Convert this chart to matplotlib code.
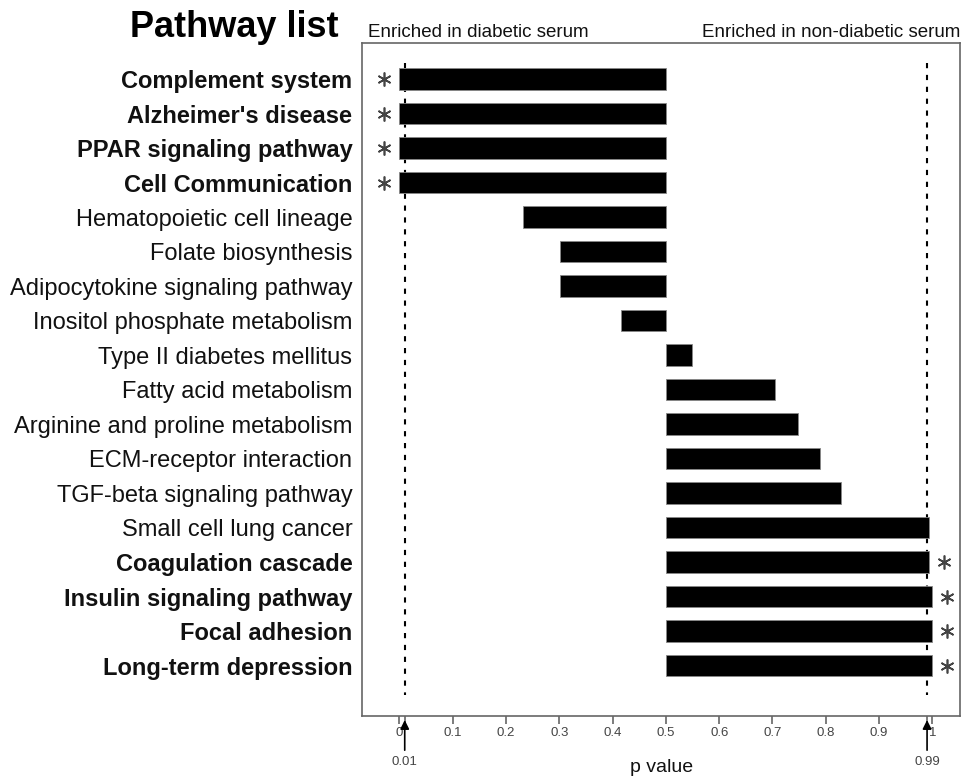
import matplotlib
matplotlib.use("Agg")
import matplotlib.pyplot as plt

plt.rcParams["font.family"] = ["Liberation Sans", "DejaVu Sans"]

# pathway names, top to bottom
pathways = [
    "Complement system", "Alzheimer's disease", "PPAR signaling pathway",
    "Cell Communication", "Hematopoietic cell lineage", "Folate biosynthesis",
    "Adipocytokine signaling pathway", "Inositol phosphate metabolism",
    "Type II diabetes mellitus", "Fatty acid metabolism",
    "Arginine and proline metabolism", "ECM-receptor interaction",
    "TGF-beta signaling pathway", "Small cell lung cancer",
    "Coagulation cascade", "Insulin signaling pathway", "Focal adhesion",
    "Long-term depression",
]
# p value of each pathway (bars are drawn from 0.5)
p_values = [0.0, 0.0, 0.0, 0.0, 0.232, 0.302, 0.302, 0.415,
            0.549, 0.704, 0.747, 0.789, 0.828, 0.994,
            0.994, 1.0, 1.0, 1.0]
significant = [True, True, True, True] + [False] * 10 + [True, True, True, True]
cutoffs = [0.01, 0.99]
xticks = [0, 0.1, 0.2, 0.3, 0.4, 0.5, 0.6, 0.7, 0.8, 0.9, 1.0]
xtick_labels = ["0", "0.1", "0.2", "0.3", "0.4", "0.5", "0.6", "0.7", "0.8", "0.9", "1"]
base = 0.5

fig = plt.figure(figsize=(9.63, 7.77), dpi=100)
ax = fig.add_axes([0.376, 0.0785, 0.621, 0.866])

rows = list(range(len(pathways)))
widths = [p - base for p in p_values]
ax.barh(rows, widths, left=base, height=0.63, color="black",
        edgecolor="#888888", linewidth=0.6, zorder=3)

# significance cut-offs
for c in cutoffs:
    ax.plot([c, c], [-0.45, 17.85], color="black", lw=1.5,
            ls=(0, (2.5, 3.2)), zorder=2)

# asterisks beside significant bars
for r, p, s in zip(rows, p_values, significant):
    if not s:
        continue
    xs = p - 0.029 if p < base else p + 0.027
    ax.plot(xs, r, marker=(6, 2, 0), ms=10, mew=1.2, color="#444444",
            ls="none", zorder=4)

ax.set_xlim(-0.07, 1.052)
ax.set_ylim(18.46, -1.04)
ax.set_yticks(rows)
ax.set_yticklabels(pathways, fontsize=17, color="#111111")
for lbl, s in zip(ax.get_yticklabels(), significant):
    if s:
        lbl.set_fontweight("bold")
ax.tick_params(axis="y", length=0, pad=7)

ax.set_xticks(xticks)
ax.set_xticklabels(xtick_labels, fontsize=9.5, color="#444444")
ax.set_xticks(cutoffs, minor=True)
ax.tick_params(axis="x", which="both", length=6, width=1.2,
               color="#666666", pad=2)
ax.set_xlabel("p value", fontsize=14, labelpad=14, color="#111111")

for sp in ax.spines.values():
    sp.set_color("#666666")
    sp.set_linewidth(1.2)

# arrows marking the cut-offs under the axis
for c in cutoffs:
    ax.annotate(f"{c:.2f}", xy=(c, -0.006), xycoords=("data", "axes fraction"),
                xytext=(c, -0.068), textcoords=("data", "axes fraction"),
                ha="center", va="center", fontsize=9.5, color="#444444",
                arrowprops=dict(arrowstyle="-|>", color="black", lw=1.2,
                                mutation_scale=13, shrinkA=2, shrinkB=0))

ax.text(0.01, 1.009, "Enriched in diabetic serum", transform=ax.transAxes,
        ha="left", va="baseline", fontsize=13.5, color="#111111")
ax.text(1.0, 1.009, "Enriched in non-diabetic serum", transform=ax.transAxes,
        ha="right", va="baseline", fontsize=13.5, color="#111111")

fig.text(0.243, 0.964, "Pathway list", ha="center", va="center",
         fontsize=26, fontweight="bold")

fig.savefig("out.png", dpi=100)
